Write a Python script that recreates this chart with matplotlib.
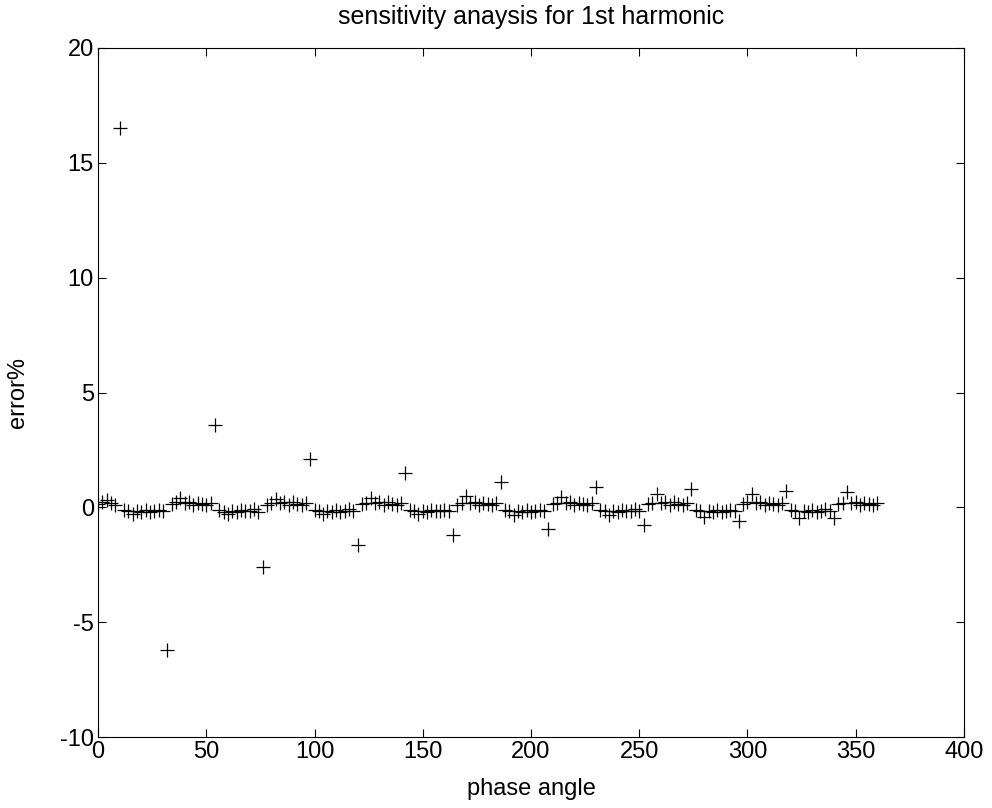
import numpy as np
import matplotlib
matplotlib.use('Agg')
import matplotlib.pyplot as plt

# phase angle (deg) - samples every 2 degrees
angulo = np.arange(0, 361, 2)

# error%
erro = [0.15, 0.25, 0.30, 0.20, 0.10,
        16.5, -0.10, -0.18, -0.30, -0.15, -0.20, -0.12, -0.22, -0.15, -0.10, -0.18,
        -6.2, 0.15, 0.22, 0.40, 0.18, 0.25, 0.12, 0.20, 0.15, 0.10, 0.20,
        3.6, -0.12, -0.20, -0.28, -0.15, -0.22, -0.10, -0.18, -0.14, -0.08, -0.20,
        -2.6, 0.12, 0.20, 0.38, 0.18, 0.22, 0.10, 0.25, 0.15, 0.12, 0.18,
        2.1, -0.10, -0.15, -0.27, -0.18, -0.22, -0.12, -0.20, -0.15, -0.08, -0.16,
        -1.65, 0.15, 0.18, 0.40, 0.20, 0.25, 0.12, 0.22, 0.15, 0.10, 0.20,
        1.5, -0.12, -0.18, -0.30, -0.15, -0.20, -0.10, -0.18, -0.14, -0.10, -0.16,
        -1.2, 0.12, 0.20, 0.50, 0.18, 0.24, 0.12, 0.20, 0.15, 0.10, 0.18,
        1.1, -0.10, -0.16, -0.32, -0.18, -0.22, -0.12, -0.20, -0.14, -0.10, -0.18,
        -0.95, 0.15, 0.20, 0.43, 0.18, 0.22, 0.12, 0.20, 0.16, 0.10, 0.18,
        0.88, -0.12, -0.18, -0.32, -0.15, -0.20, -0.10, -0.18, -0.15, -0.08, -0.18,
        -0.75, 0.14, 0.20, 0.58, 0.20, 0.24, 0.12, 0.22, 0.15, 0.10, 0.20,
        0.82, -0.12, -0.18, -0.40, -0.16, -0.22, -0.12, -0.20, -0.14, -0.10, -0.18,
        -0.58, 0.14, 0.22, 0.60, 0.18, 0.25, 0.12, 0.20, 0.16, 0.10, 0.20,
        0.72, -0.12, -0.18, -0.48, -0.16, -0.22, -0.10, -0.20, -0.15, -0.08, -0.18,
        -0.48, 0.14, 0.20, 0.65, 0.18, 0.24, 0.12, 0.20, 0.15, 0.10, 0.18]

plt.rcParams['font.family'] = ['Liberation Sans', 'DejaVu Sans']
plt.rcParams['font.size'] = 17
plt.rcParams['axes.unicode_minus'] = False

fig = plt.figure(figsize=(9.92, 8.08), dpi=100)
ax = fig.add_axes([98/992, 1 - 737/808, (964 - 98)/992, (737 - 48)/808])

ax.plot(angulo, erro, 'k+', markersize=10, markeredgewidth=0.9)

ax.set_xlim(0, 400)
ax.set_ylim(-10, 20)
ax.set_xticks(range(0, 401, 50))
ax.set_yticks(range(-10, 21, 5))
ax.tick_params(direction='in', top=True, right=True, length=6, width=0.8,
               labelsize=17, pad=3)
for s in ax.spines.values():
    s.set_linewidth(0.8)

ax.set_xlabel('phase angle', fontsize=17, labelpad=11)
ax.set_ylabel('error%', fontsize=17, labelpad=22)
ax.set_title('sensitivity anaysis for 1st harmonic', fontsize=18, pad=17)

fig.savefig('out.png', dpi=100)
